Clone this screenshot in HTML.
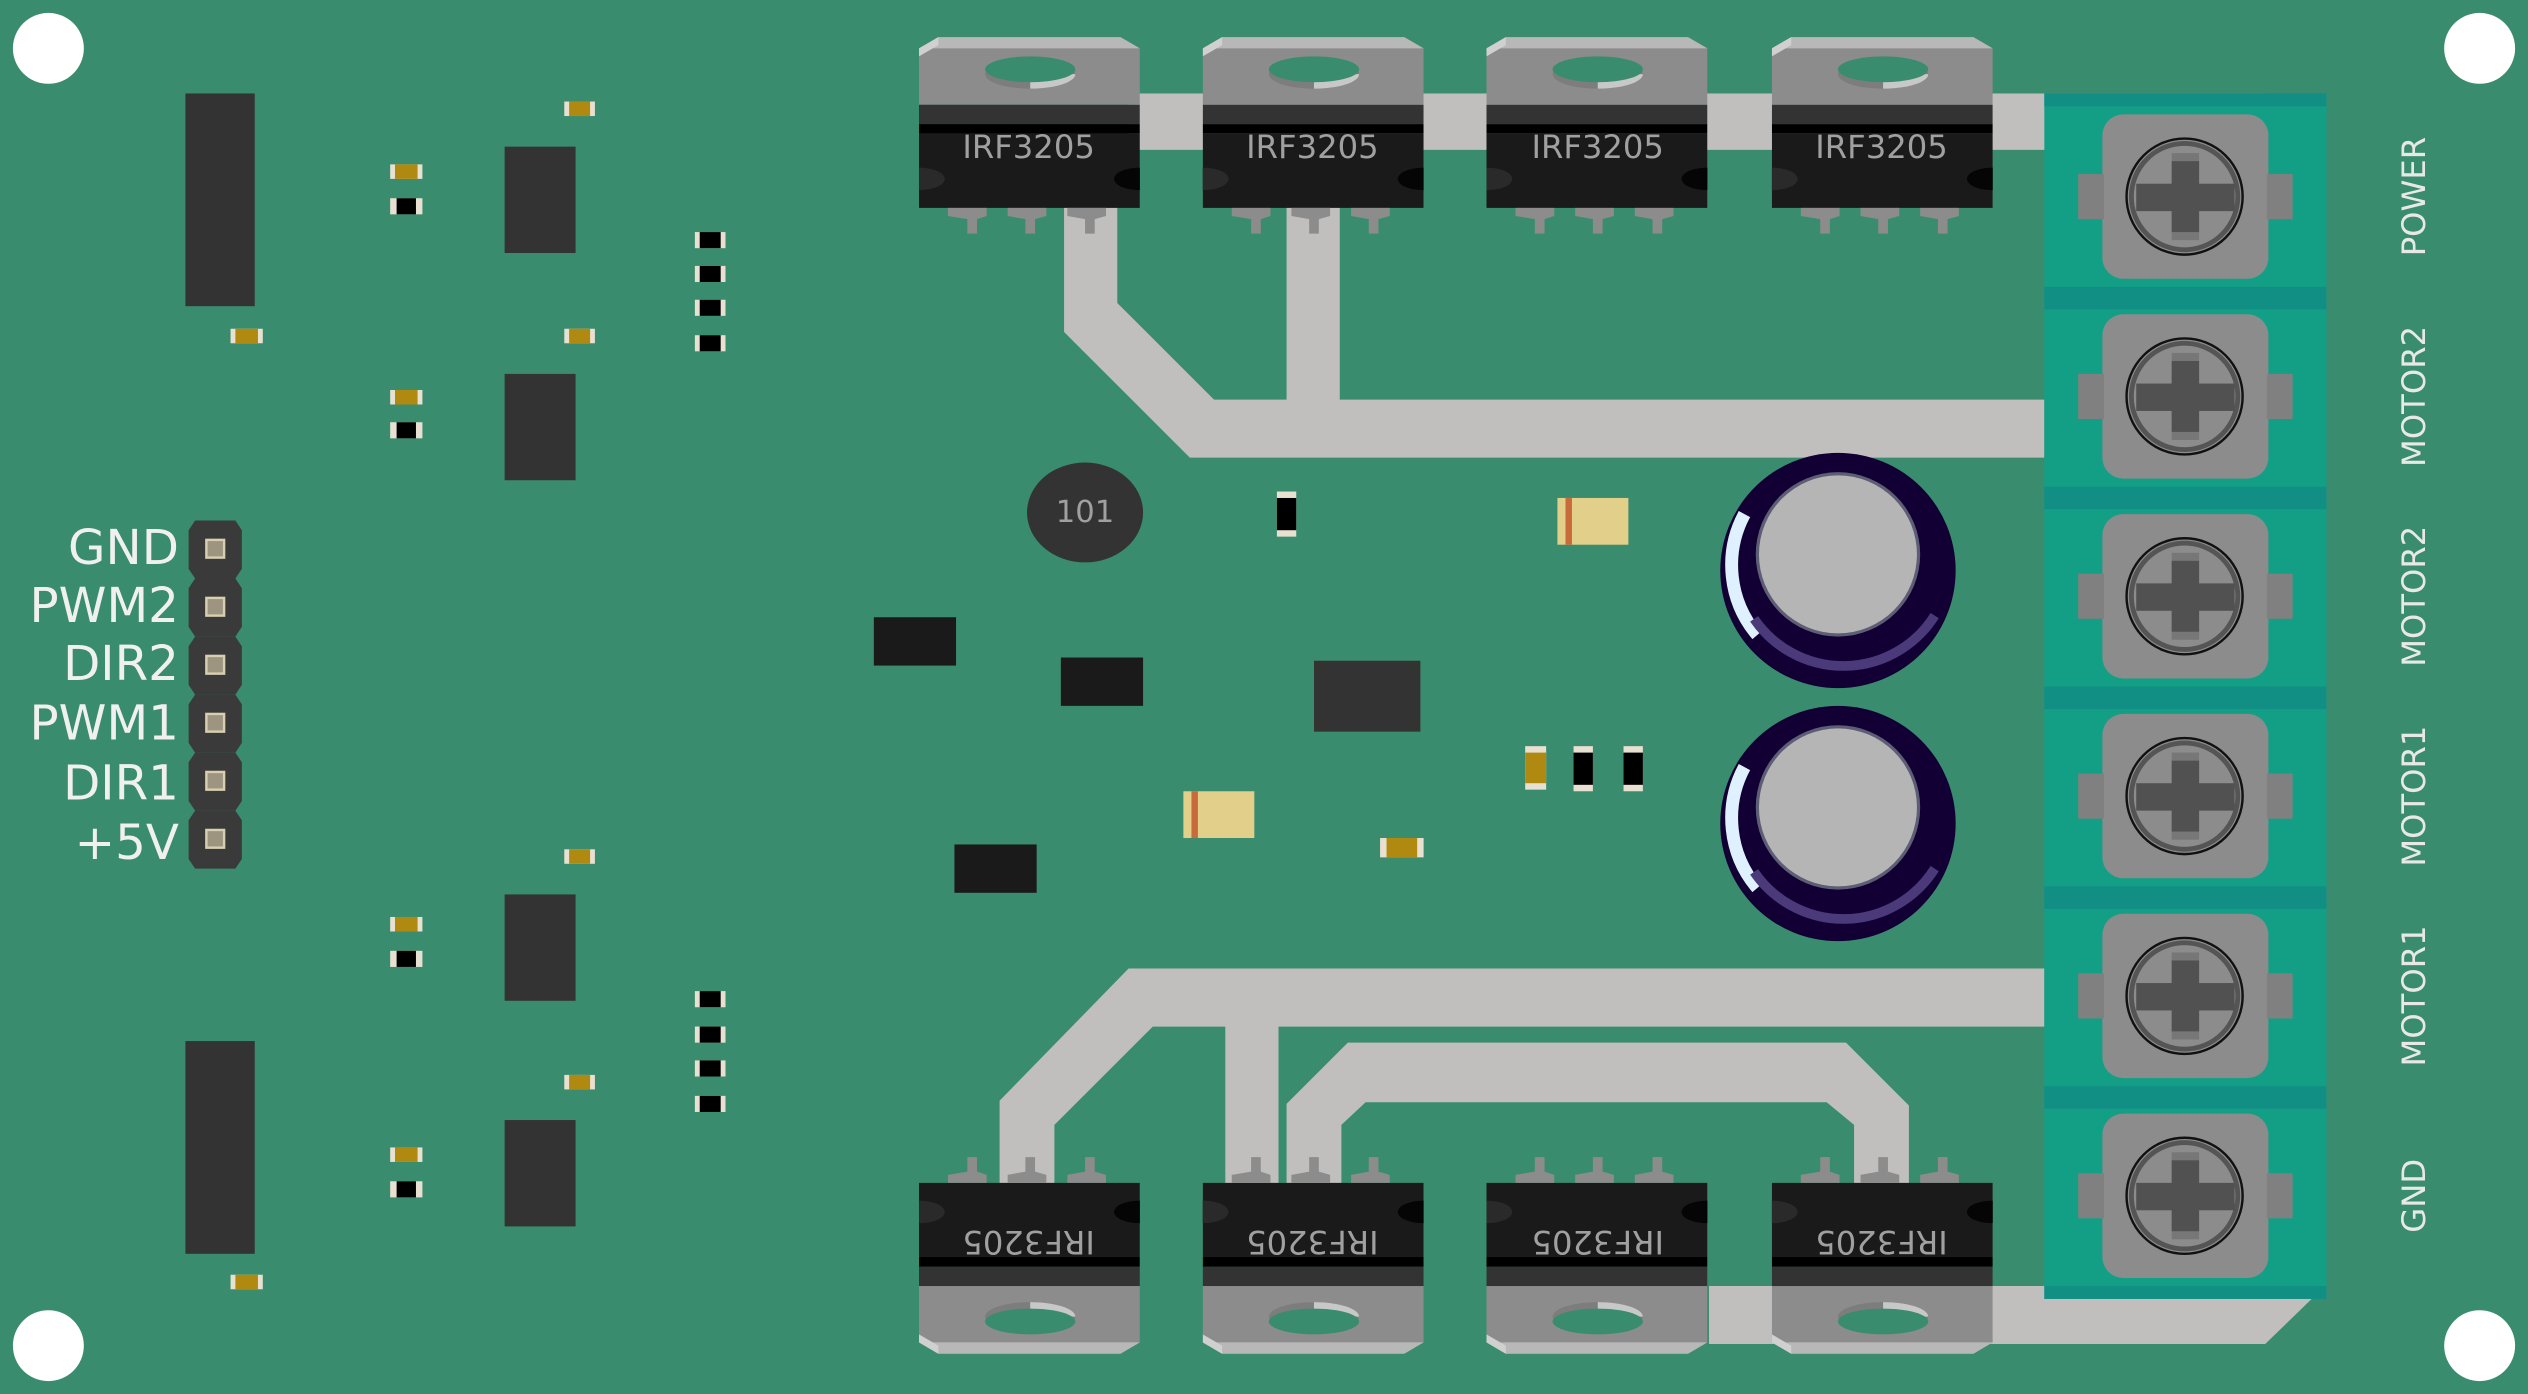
<!DOCTYPE html>
<html><head><style>html,body{margin:0;padding:0;background:#3a8c6f;}svg{display:block}</style></head><body>
<svg width="2528" height="1394" viewBox="0 0 1568 865" preserveAspectRatio="none" xmlns="http://www.w3.org/2000/svg" font-family="DejaVu Sans, Liberation Sans, sans-serif">
<defs>
<clipPath id="mc"><rect x="0" y="0" width="137" height="130"/></clipPath>
<g id="mt">
 <g clip-path="url(#mc)">
  <polygon points="0,30 12,23 125,23 137,30 137,65 0,65" fill="#8c8c8c"/>
  <polygon points="12,23 125,23 137,30 0,30" fill="#b8b8b8"/>
  <polygon points="0,30 12,23 12,28 0,35" fill="#d0d0d0"/>
  <ellipse cx="69" cy="46" rx="28" ry="9" fill="#7d7d7d"/>
  <path d="M69,46 L97,46 A28,9 0 0 1 69,55Z" fill="#c8c8c8"/>
  <ellipse cx="69" cy="43" rx="28" ry="8" fill="#3a8c6f"/>
  <rect x="0" y="65" width="137" height="12" fill="#333"/>
  <rect x="0" y="77" width="137" height="6" fill="#000"/>
  <rect x="0" y="83" width="137" height="46" fill="#1a1a1a"/>
  <ellipse cx="0" cy="111" rx="16" ry="7" fill="#2a2a2a"/>
  <ellipse cx="137" cy="111" rx="16" ry="7" fill="#050505"/>
 </g>
  <g fill="#8c8c8c">
   <polygon points="18,129 42,129 42,134 36,136 36,145 30,145 30,136 18,134"/>
   <polygon points="55,129 79,129 79,134 72,136 72,145 66,145 66,136 55,134"/>
   <polygon points="92,129 116,129 116,134 109,136 109,145 103,145 103,136 92,134"/>
  </g>
</g>
<g id="tb">
  <rect x="1304" y="-51" width="103" height="102" rx="13" fill="#8c8c8c"/>
  <rect x="1289" y="-14" width="16" height="28" fill="#808080"/>
  <rect x="1406" y="-14" width="16" height="28" fill="#808080"/>
  <circle cx="1355" cy="0" r="36" fill="#8c8c8c" stroke="#111" stroke-width="1.5"/>
  <circle cx="1355" cy="0" r="33" fill="none" stroke="#555" stroke-width="3"/>
  <rect x="1347" y="-27" width="17" height="54" fill="#777"/>
  <rect x="1347" y="-22" width="17" height="44" fill="#525152"/>
  <rect x="1325" y="-8" width="61" height="17" fill="#525152"/>
</g>
<g id="cap">
  <circle r="73" fill="#120034"/>
  <path d="M-58,-35 A67,67 0 0 0 -50,40" stroke="#dff0ff" stroke-width="8" fill="none"/>
  <path d="M-52,30 A67,67 0 0 0 60,28" stroke="#4a3a7a" stroke-width="6" fill="none"/>
  <circle cx="0" cy="-10" r="51" fill="#5d5d75"/>
  <circle cx="0" cy="-10" r="49" fill="#b5b5b5"/>
</g>
</defs>
<rect width="1568" height="865" fill="#3a8c6f"/>
<g fill="#fff"><circle cx="30" cy="30" r="22"/><circle cx="1538" cy="30" r="22"/><circle cx="30" cy="835" r="22"/><circle cx="1538" cy="835" r="22"/></g>
<g fill="#c0bfbd">
  <rect x="700" y="58" width="705" height="35"/>
  <polygon points="660,128 693,128 693,188 753,248 1268,248 1268,284 738,284 660,206"/>
  <rect x="798" y="128" width="33" height="122"/>
  <polygon points="700,601 1268,601 1268,637 715,637 654,698 654,735 620,735 620,683"/>
  <rect x="760" y="636" width="33" height="100"/>
  <polygon points="798,735 798,685 836,647 1145,647 1184,686 1184,735 1150,735 1150,698 1133,684 847,684 832,698 832,735"/>
  <polygon points="1060,798 1440,798 1440,800 1405,834 1060,834"/>
</g>
<use href="#mt" x="570"/><use href="#mt" x="746"/><use href="#mt" x="922"/><use href="#mt" x="1099"/>
<g transform="translate(0,863) scale(1,-1)">
<use href="#mt" x="570"/><use href="#mt" x="746"/><use href="#mt" x="922"/><use href="#mt" x="1099"/>
</g>
<g fill="#a0a0a0" font-size="20" text-anchor="middle">
<text x="638" y="98">IRF3205</text><text x="814" y="98">IRF3205</text><text x="991" y="98">IRF3205</text><text x="1167" y="98">IRF3205</text>
<g transform="rotate(180 638 771)"><text x="638" y="778">IRF3205</text></g>
<g transform="rotate(180 814 771)"><text x="814" y="778">IRF3205</text></g>
<g transform="rotate(180 991 771)"><text x="991" y="778">IRF3205</text></g>
<g transform="rotate(180 1167 771)"><text x="1167" y="778">IRF3205</text></g>
</g>
<rect x="1268" y="58" width="175" height="748" fill="#139f85"/>
<g fill="#128f85">
<rect x="1268" y="58" width="175" height="8"/>
<rect x="1268" y="178" width="175" height="14"/><rect x="1268" y="302" width="175" height="14"/>
<rect x="1268" y="426" width="175" height="14"/><rect x="1268" y="550" width="175" height="14"/>
<rect x="1268" y="674" width="175" height="14"/><rect x="1268" y="798" width="175" height="8"/>
</g>
<use href="#tb" y="122"/><use href="#tb" y="246"/><use href="#tb" y="370"/><use href="#tb" y="494"/><use href="#tb" y="618"/><use href="#tb" y="742"/>
<g fill="#e8e8e8" font-size="20" text-anchor="middle">
<text transform="translate(1504,122) rotate(-90)">POWER</text>
<text transform="translate(1504,246) rotate(-90)">MOTOR2</text>
<text transform="translate(1504,370) rotate(-90)">MOTOR2</text>
<text transform="translate(1504,494) rotate(-90)">MOTOR1</text>
<text transform="translate(1504,618) rotate(-90)">MOTOR1</text>
<text transform="translate(1504,742) rotate(-90)">GND</text>
</g>
<use href="#cap" x="1140" y="354"/><use href="#cap" x="1140" y="511"/>
<g fill="#333">
<rect x="115" y="58" width="43" height="132"/><rect x="115" y="646" width="43" height="132"/>
<rect x="313" y="91" width="44" height="66"/><rect x="313" y="232" width="44" height="66"/>
<rect x="313" y="555" width="44" height="66"/><rect x="313" y="695" width="44" height="66"/>
<rect x="815" y="410" width="66" height="44"/>
</g>
<g fill="#1a1a1a"><rect x="542" y="383" width="51" height="30"/><rect x="658" y="408" width="51" height="30"/><rect x="592" y="524" width="51" height="30"/></g>
<ellipse cx="673" cy="318" rx="36" ry="31" fill="#333"/>
<text x="673" y="324" fill="#a0a0a0" font-size="19" text-anchor="middle">101</text>
<g>
<g fill="#e8e0d0">
<rect x="242" y="123" width="20" height="10"/><rect x="242" y="262" width="20" height="10"/>
<rect x="242" y="590" width="20" height="10"/><rect x="242" y="733" width="20" height="10"/>
<rect x="431" y="144" width="19" height="10"/><rect x="431" y="165" width="19" height="10"/><rect x="431" y="186" width="19" height="10"/><rect x="431" y="208" width="19" height="10"/>
<rect x="431" y="615" width="19" height="10"/><rect x="431" y="637" width="19" height="10"/><rect x="431" y="658" width="19" height="10"/><rect x="431" y="680" width="19" height="10"/>
<rect x="792" y="305" width="12" height="28"/><rect x="976" y="463" width="12" height="28"/><rect x="1007" y="463" width="12" height="28"/>
</g>
<g fill="#000">
<rect x="246" y="123" width="12" height="10"/><rect x="246" y="262" width="12" height="10"/>
<rect x="246" y="590" width="12" height="10"/><rect x="246" y="733" width="12" height="10"/>
<rect x="434" y="144" width="13" height="10"/><rect x="434" y="165" width="13" height="10"/><rect x="434" y="186" width="13" height="10"/><rect x="434" y="208" width="13" height="10"/>
<rect x="434" y="615" width="13" height="10"/><rect x="434" y="637" width="13" height="10"/><rect x="434" y="658" width="13" height="10"/><rect x="434" y="680" width="13" height="10"/>
<rect x="792" y="309" width="12" height="20"/><rect x="976" y="467" width="12" height="20"/><rect x="1007" y="467" width="12" height="20"/>
</g>
</g>
<g fill="#e8e0d0">
<rect x="350" y="63" width="19" height="9"/><rect x="242" y="102" width="20" height="9"/><rect x="143" y="204" width="20" height="9"/>
<rect x="350" y="204" width="19" height="9"/><rect x="242" y="242" width="20" height="9"/>
<rect x="350" y="527" width="19" height="9"/><rect x="242" y="569" width="20" height="9"/><rect x="350" y="667" width="19" height="9"/>
<rect x="242" y="712" width="20" height="9"/><rect x="143" y="791" width="20" height="9"/>
<rect x="856" y="520" width="27" height="12"/><rect x="946" y="463" width="13" height="27"/>
</g>
<g fill="#b08a10">
<rect x="353" y="63" width="13" height="9"/><rect x="245" y="102" width="14" height="9"/><rect x="146" y="204" width="14" height="9"/>
<rect x="353" y="204" width="13" height="9"/><rect x="245" y="242" width="14" height="9"/>
<rect x="353" y="527" width="13" height="9"/><rect x="245" y="569" width="14" height="9"/><rect x="353" y="667" width="13" height="9"/>
<rect x="245" y="712" width="14" height="9"/><rect x="146" y="791" width="14" height="9"/>
<rect x="860" y="520" width="19" height="12"/><rect x="946" y="467" width="13" height="19"/>
</g>
<rect x="966" y="309" width="44" height="29" fill="#e2d08a"/><rect x="971" y="309" width="4" height="29" fill="#c86a3a"/>
<rect x="734" y="491" width="44" height="29" fill="#e2d08a"/><rect x="739" y="491" width="4" height="29" fill="#c86a3a"/>
<g>
<g fill="#3a3a3a">
<polygon points="121,323 146,323 150,329 150,353 146,359 121,359 117,353 117,329"/>
<polygon points="121,359 146,359 150,365 150,389 146,395 121,395 117,389 117,365"/>
<polygon points="121,395 146,395 150,401 150,425 146,431 121,431 117,425 117,401"/>
<polygon points="121,431 146,431 150,437 150,461 146,467 121,467 117,461 117,437"/>
<polygon points="121,467 146,467 150,473 150,497 146,503 121,503 117,497 117,473"/>
<polygon points="121,503 146,503 150,509 150,533 146,539 121,539 117,533 117,509"/>
</g>
<g fill="#9d9580" stroke="#d8cfb0" stroke-width="1.5">
<rect x="128" y="335" width="11" height="11"/><rect x="128" y="371" width="11" height="11"/><rect x="128" y="407" width="11" height="11"/>
<rect x="128" y="443" width="11" height="11"/><rect x="128" y="479" width="11" height="11"/><rect x="128" y="515" width="11" height="11"/>
</g>
<g fill="#f0f0f0" font-size="30" text-anchor="end">
<text x="111" y="350">GND</text><text x="111" y="386">PWM2</text><text x="111" y="422">DIR2</text>
<text x="111" y="459">PWM1</text><text x="111" y="496">DIR1</text><text x="111" y="533">+5V</text>
</g>
</g>
</svg>
</body></html>
